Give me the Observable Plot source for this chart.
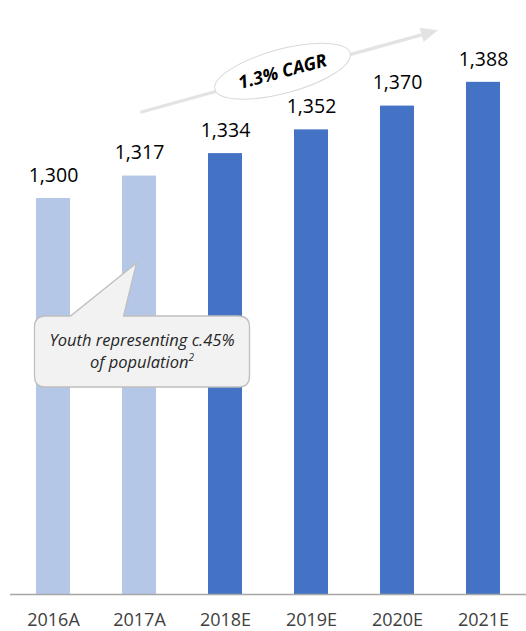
<!DOCTYPE html>
<html>
<head>
<meta charset="utf-8">
<script src="https://cdn.jsdelivr.net/npm/d3@7"></script>
<script src="https://cdn.jsdelivr.net/npm/@observablehq/plot@0.6"></script>
<style>
  html, body { margin: 0; padding: 0; background: #fff; }
  #chart { width: 526px; height: 631px; }
</style>
</head>
<body>
<div id="chart"></div>
<script>
// ---- data ----
const years = ["2016A", "2017A", "2018E", "2019E", "2020E", "2021E"];
const population = [1300, 1317, 1334, 1352, 1370, 1388];
const status = ["Actual", "Actual", "Estimate", "Estimate", "Estimate", "Estimate"];
const cagrLabel = "1.3% CAGR";
const calloutLines = ["Youth representing c.45%", "of population"];
const calloutSup = "2";

const data = years.map((y, i) => ({ year: y, value: population[i], status: status[i] }));
const FONT = "'Open Sans', 'Noto Sans', sans-serif";

const chart = Plot.plot({
  width: 526,
  height: 631,
  marginLeft: 10,
  marginRight: 0,
  marginTop: 0,
  marginBottom: 37,
  style: { fontFamily: FONT, fontSize: "18px", color: "#404040", background: "#fff" },
  x: { domain: years, paddingInner: 0.6, paddingOuter: 0.3, label: null, tickSize: 0, tickPadding: 19 },
  y: { domain: [1000, 1450], axis: null },
  color: { domain: ["Actual", "Estimate"], range: ["#b4c7e7", "#4472c4"] },
  marks: [
    Plot.barY(data, { x: "year", y1: 1000, y2: "value", fill: "status" }),
    Plot.ruleY([1000], { stroke: "#a6a6a6", strokeWidth: 1.5 }),
    Plot.text(data, {
      x: "year", y: "value", text: d => d3.format(",")(d.value),
      dy: -23, fontSize: 19.5, fill: "#000"
    })
  ]
});
document.getElementById("chart").appendChild(chart);

// ---- annotations positioned from the chart's own scales ----
const sx = chart.scale("x"), sy = chart.scale("y");
const bw = sx.bandwidth || 0;
const cx = (yr, off = 0) => sx.apply(yr) + bw / 2 + off;
const cy = v => sy.apply(v);
const svg = d3.select(chart);
const g = svg.append("g");

// CAGR arrow
const x0 = cx("2017A", 1.5), y0 = cy(1365);
const x1 = cx("2021E", -45), y1 = cy(1427);
const ang = Math.atan2(y1 - y0, x1 - x0);
const headLen = 17, headW = 7.5;
const bx = x1 - headLen * Math.cos(ang), by = y1 - headLen * Math.sin(ang);
g.append("line").attr("x1", x0).attr("y1", y0).attr("x2", bx).attr("y2", by)
  .attr("stroke", "#e3e3e3").attr("stroke-width", 3.2);
g.append("path")
  .attr("d", `M${x1},${y1}L${bx - headW * Math.sin(ang)},${by + headW * Math.cos(ang)}L${bx + headW * Math.sin(ang)},${by - headW * Math.cos(ang)}Z`)
  .attr("fill", "#e3e3e3");

// ellipse with label
const ex = cx("2018E", 57.5), ey = cy(1396);
const deg = -15;
const eg = g.append("g").attr("transform", `translate(${ex},${ey}) rotate(${deg})`);
eg.append("ellipse").attr("rx", 70).attr("ry", 22)
  .attr("fill", "#fff").attr("stroke", "#d9d9d9").attr("stroke-width", 1);
eg.append("text").attr("text-anchor", "middle").attr("dy", "0.35em")
  .attr("font-family", FONT).attr("font-size", 18).attr("font-weight", "bold")
  .attr("font-style", "italic").attr("fill", "#000").text(cagrLabel);

// callout box
const boxL = cx("2016A", -18.5), boxR = cx("2018E", 24.5);
const boxT = cy(1210.6), boxB = cy(1156.8);
const tipX = cx("2017A", -2.5), tipY = cy(1250.8);
const baseL = cx("2016A", 17.5), baseR = cx("2017A", -15.5);
const r = 11;
const path = `M${boxL + r},${boxT}L${baseL},${boxT}L${tipX},${tipY}L${baseR},${boxT}L${boxR - r},${boxT}` +
  `Q${boxR},${boxT} ${boxR},${boxT + r}L${boxR},${boxB - r}Q${boxR},${boxB} ${boxR - r},${boxB}` +
  `L${boxL + r},${boxB}Q${boxL},${boxB} ${boxL},${boxB - r}L${boxL},${boxT + r}Q${boxL},${boxT} ${boxL + r},${boxT}Z`;
g.append("path").attr("d", path).attr("fill", "#f2f2f2").attr("stroke", "#bfbfbf").attr("stroke-width", 1.3);
const tx = (boxL + boxR) / 2;
g.append("text").attr("x", tx).attr("y", boxT + 30).attr("text-anchor", "middle")
  .attr("font-family", FONT).attr("font-size", 16.5).attr("font-style", "italic").attr("fill", "#262626")
  .text(calloutLines[0]);
const t2 = g.append("text").attr("x", tx).attr("y", boxT + 52).attr("text-anchor", "middle")
  .attr("font-family", FONT).attr("font-size", 16.5).attr("font-style", "italic").attr("fill", "#262626");
t2.append("tspan").text(calloutLines[1]);
t2.append("tspan").attr("font-size", 10).attr("dy", -7).text(calloutSup);
</script>
</body>
</html>
